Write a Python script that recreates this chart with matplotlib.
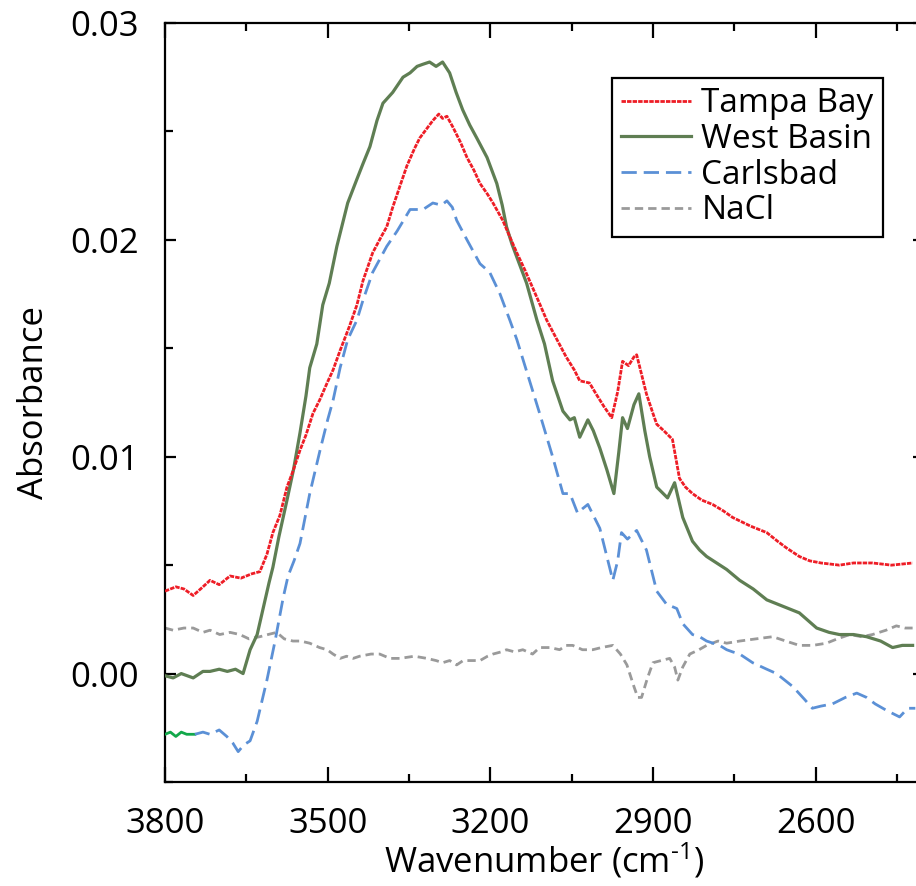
import matplotlib
matplotlib.use("Agg")
import matplotlib.pyplot as plt
from matplotlib.ticker import MultipleLocator, FixedLocator

plt.rcParams['font.family'] = ['Open Sans', 'DejaVu Sans']
plt.rcParams['mathtext.fontset'] = 'custom'
plt.rcParams['mathtext.rm'] = 'Open Sans'
plt.rcParams['mathtext.default'] = 'regular'

# ---------------- data (wavenumber cm^-1, absorbance) ----------------
tampa_w = [3800, 3780, 3765, 3748, 3730, 3717, 3700, 3680, 3660, 3640, 3625, 3612, 3601, 3588, 3575,
           3563, 3551, 3540, 3527, 3515, 3501, 3490, 3477, 3460, 3446, 3435, 3417, 3400, 3391, 3380,
           3365, 3354, 3340, 3330, 3318, 3306, 3295, 3288, 3280, 3269, 3255, 3243, 3230, 3219, 3205,
           3195, 3177, 3165, 3151, 3136, 3122, 3108, 3096, 3077, 3060, 3045, 3035, 3017, 3005, 2990,
           2976, 2965, 2956, 2945, 2935, 2930, 2920, 2912, 2900, 2893, 2880, 2864, 2851, 2840, 2827,
           2810, 2790, 2770, 2753, 2720, 2690, 2670, 2654, 2630, 2611, 2590, 2556, 2530, 2495, 2460, 2421]
tampa_a = [0.0038, 0.0040, 0.0039, 0.0036, 0.0040, 0.0043, 0.0041, 0.0045, 0.0044, 0.0046, 0.0047, 0.0055, 0.0065, 0.0073, 0.0086,
           0.0094, 0.0103, 0.0110, 0.0120, 0.0126, 0.0134, 0.0140, 0.0149, 0.0160, 0.0170, 0.0181, 0.0194, 0.0202, 0.0206, 0.0215,
           0.0226, 0.0234, 0.0242, 0.0247, 0.0251, 0.0255, 0.0258, 0.0256, 0.0257, 0.0252, 0.0245, 0.0238, 0.0232, 0.0226, 0.0221,
           0.0217, 0.0209, 0.0202, 0.0194, 0.0186, 0.0178, 0.0170, 0.0163, 0.0154, 0.0146, 0.0140, 0.0135, 0.0134, 0.0129, 0.0123,
           0.0118, 0.0130, 0.0144, 0.0142, 0.0146, 0.0147, 0.0137, 0.0129, 0.0120, 0.0115, 0.0112, 0.0108, 0.0090, 0.0086, 0.0083,
           0.0080, 0.0078, 0.0075, 0.0072, 0.0068, 0.0065, 0.0061, 0.0058, 0.0054, 0.0052, 0.0051, 0.0050, 0.0051, 0.0051, 0.0050, 0.0051]

west_w = [3800, 3785, 3770, 3748, 3730, 3717, 3700, 3685, 3670, 3656, 3643, 3630, 3619, 3608, 3601,
          3590, 3575, 3563, 3551, 3540, 3533, 3520, 3509, 3497, 3483, 3463, 3446, 3435, 3422, 3409,
          3398, 3380, 3361, 3348, 3335, 3324, 3312, 3300, 3288, 3275, 3263, 3251, 3238, 3225, 3206,
          3188, 3178, 3170, 3160, 3151, 3133, 3114, 3100, 3085, 3066, 3053, 3045, 3035, 3020, 3010,
          2998, 2985, 2972, 2963, 2956, 2947, 2935, 2926, 2915, 2906, 2893, 2873, 2860, 2845, 2827,
          2814, 2801, 2764, 2740, 2715, 2690, 2660, 2630, 2598, 2575, 2556, 2530, 2506, 2480, 2458, 2440, 2421]
west_a = [-0.0001, -0.0002, 0.0000, -0.0002, 0.0001, 0.0001, 0.0002, 0.0001, 0.0002, 0.0000, 0.0011, 0.0018, 0.0030, 0.0042, 0.0049,
          0.0063, 0.0080, 0.0094, 0.0111, 0.0128, 0.0141, 0.0152, 0.0170, 0.0180, 0.0197, 0.0217, 0.0228, 0.0235, 0.0243, 0.0255,
          0.0263, 0.0268, 0.0275, 0.0277, 0.0280, 0.0281, 0.0282, 0.0280, 0.0282, 0.0277, 0.0268, 0.0260, 0.0253, 0.0247, 0.0238,
          0.0226, 0.0216, 0.0206, 0.0198, 0.0192, 0.0180, 0.0163, 0.0152, 0.0135, 0.0121, 0.0117, 0.0118, 0.0109, 0.0117, 0.0112,
          0.0104, 0.0094, 0.0083, 0.0102, 0.0118, 0.0113, 0.0124, 0.0129, 0.0112, 0.0100, 0.0086, 0.0081, 0.0088, 0.0072, 0.0061,
          0.0057, 0.0054, 0.0048, 0.0043, 0.0039, 0.0034, 0.0031, 0.0028, 0.0021, 0.0019, 0.0018, 0.0018, 0.0017, 0.0015, 0.0012, 0.0013, 0.0013]

carls_start_w = [3800, 3790, 3780, 3770, 3760, 3745]
carls_start_a = [-0.0028, -0.0027, -0.0029, -0.0027, -0.0028, -0.0028]

carls_w = [3745, 3730, 3717, 3700, 3686, 3675, 3665, 3655, 3643, 3630, 3612, 3597, 3582, 3573, 3562,
           3551, 3533, 3514, 3500, 3490, 3477, 3463, 3446, 3435, 3417, 3391, 3372, 3348, 3324, 3306,
           3290, 3280, 3270, 3262, 3243, 3219, 3201, 3182, 3164, 3151, 3130, 3109, 3085, 3066, 3053,
           3039, 3030, 3020, 3010, 2998, 2985, 2974, 2965, 2958, 2947, 2930, 2912, 2893, 2875, 2856,
           2845, 2827, 2814, 2801, 2777, 2764, 2753, 2740, 2716, 2690, 2672, 2642, 2620, 2606, 2590,
           2569, 2545, 2524, 2506, 2490, 2469, 2445, 2430, 2416]
carls_a = [-0.0028, -0.0027, -0.0028, -0.0026, -0.0029, -0.0032, -0.0036, -0.0033, -0.0031, -0.0022, -0.0003, 0.0015, 0.0035, 0.0045, 0.0052,
           0.0060, 0.0083, 0.0103, 0.0117, 0.0126, 0.0141, 0.0154, 0.0163, 0.0172, 0.0185, 0.0197, 0.0204, 0.0214, 0.0214, 0.0217,
           0.0216, 0.0218, 0.0215, 0.0209, 0.0200, 0.0189, 0.0185, 0.0175, 0.0163, 0.0154, 0.0137, 0.0120, 0.0100, 0.0083, 0.0083,
           0.0074, 0.0076, 0.0078, 0.0073, 0.0067, 0.0054, 0.0043, 0.0052, 0.0065, 0.0062, 0.0066, 0.0057, 0.0038, 0.0032, 0.0030,
           0.0023, 0.0018, 0.0017, 0.0015, 0.0013, 0.0011, 0.0010, 0.0009, 0.0005, 0.0002, 0.0000, -0.0006, -0.0012, -0.0016, -0.0015,
           -0.0014, -0.0011, -0.0009, -0.0011, -0.0014, -0.0017, -0.0020, -0.0016, -0.0016]

nacl_w = [3800, 3785, 3765, 3748, 3730, 3717, 3699, 3680, 3662, 3645, 3625, 3610, 3594, 3580, 3564,
          3550, 3533, 3515, 3501, 3490, 3477, 3465, 3453, 3441, 3420, 3404, 3385, 3367, 3340, 3317,
          3300, 3288, 3275, 3262, 3250, 3238, 3219, 3205, 3195, 3180, 3170, 3155, 3140, 3122, 3109,
          3090, 3072, 3060, 3048, 3030, 3011, 2995, 2974, 2960, 2948, 2935, 2928, 2921, 2910, 2900,
          2885, 2869, 2860, 2854, 2845, 2832, 2815, 2801, 2780, 2764, 2740, 2710, 2679, 2655, 2630,
          2605, 2580, 2560, 2537, 2515, 2495, 2470, 2451, 2435, 2421]
nacl_a = [0.0021, 0.0020, 0.0021, 0.0021, 0.0019, 0.0020, 0.0018, 0.0019, 0.0018, 0.0016, 0.0017, 0.0018, 0.0019, 0.0016, 0.0015,
          0.0015, 0.0014, 0.0012, 0.0011, 0.0009, 0.0007, 0.0008, 0.0007, 0.0008, 0.0009, 0.0009, 0.0007, 0.0007, 0.0008, 0.0007,
          0.0006, 0.0005, 0.0006, 0.0004, 0.0006, 0.0006, 0.0006, 0.0008, 0.0009, 0.0010, 0.0011, 0.0010, 0.0011, 0.0009, 0.0012,
          0.0012, 0.0011, 0.0013, 0.0013, 0.0011, 0.0011, 0.0012, 0.0013, 0.0009, 0.0004, -0.0006, -0.0011, -0.0011, -0.0002, 0.0005,
          0.0006, 0.0007, 0.0003, -0.0003, 0.0003, 0.0009, 0.0011, 0.0013, 0.0015, 0.0014, 0.0015, 0.0016, 0.0017, 0.0015, 0.0013,
          0.0013, 0.0014, 0.0016, 0.0018, 0.0017, 0.0018, 0.0020, 0.0022, 0.0021, 0.0021]

series_labels = ["Tampa Bay", "West Basin", "Carlsbad", "NaCl"]
x_major = [3800, 3500, 3200, 2900, 2600]
x_minor = [3650, 3350, 3050, 2750, 2450]
y_major = [0.00, 0.01, 0.02, 0.03]
y_labels = ["0.00", "0.01", "0.02", "0.03"]

# ---------------- figure ----------------
fig = plt.figure(figsize=(9.16, 8.86), dpi=100)
W, H = 916, 886
ax = fig.add_axes([165 / W, 1 - 782 / H, (924 - 165) / W, (782 - 23) / H])

red = '#ee1d26'
green = '#5f7e53'
blue = '#5b90d6'
grey = '#9a9a9a'

ax.plot(tampa_w, tampa_a, color=red, lw=2.0, ls=(0, (1.6, 0.4)), label=series_labels[0], zorder=4)
ax.plot(west_w, west_a, color=green, lw=2.3, ls='-', label=series_labels[1], zorder=3)
ax.plot(carls_start_w, carls_start_a, color='#12a84a', lw=2.0, ls='-', zorder=3)
ax.plot(carls_w, carls_a, color=blue, lw=2.0, ls=(0, (5.5, 2.5)), label=series_labels[2], zorder=3)
ax.plot(nacl_w, nacl_a, color=grey, lw=2.0, ls=(0, (3, 1.8)), label=series_labels[3], zorder=2)

ax.set_xlim(3800, 2400)
ax.set_ylim(-0.005, 0.03)

ax.xaxis.set_major_locator(FixedLocator(x_major))
ax.xaxis.set_minor_locator(FixedLocator(x_minor))
ax.yaxis.set_major_locator(FixedLocator(y_major))
ax.yaxis.set_minor_locator(MultipleLocator(0.005))
ax.set_yticklabels(y_labels)

for s in ax.spines.values():
    s.set_linewidth(1.6)

ax.tick_params(axis='x', which='major', direction='in', length=11, width=1.6,
               top=True, bottom=True, labelsize=25, pad=18)
ax.tick_params(axis='x', which='minor', direction='in', length=6, width=1.6, top=True, bottom=True)
ax.tick_params(axis='y', which='major', direction='in', length=8, width=1.6,
               left=True, right=True, labelsize=25, pad=19)
ax.tick_params(axis='y', which='minor', direction='in', length=6, width=1.6, left=True, right=True)

ax.set_xlabel('Wavenumber (cm$^{\\text{-}1}$)', fontsize=25, labelpad=0)
ax.set_ylabel('Absorbance', fontsize=25, labelpad=14)

leg = fig.legend(loc='upper left', bbox_to_anchor=(612 / W, 1 - 78 / H), bbox_transform=fig.transFigure,
                 fontsize=24, frameon=True, fancybox=False, framealpha=1, edgecolor='black',
                 handlelength=2.1, handletextpad=0.3, labelspacing=0.08, borderpad=0.28,
                 borderaxespad=0)
leg.get_frame().set_linewidth(1.6)

fig.savefig('out.png', dpi=100)
